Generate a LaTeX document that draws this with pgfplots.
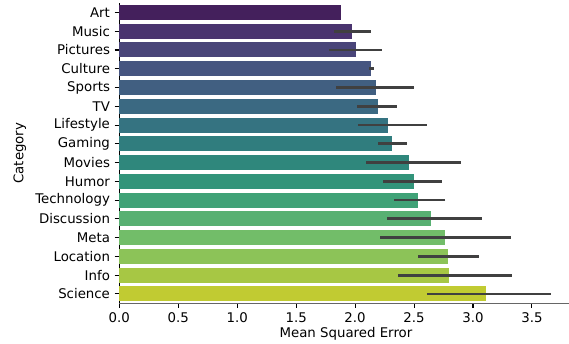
\documentclass[border=0pt]{standalone}
\usepackage{pgfplots}
\pgfplotsset{compat=1.18}
\usepackage{fontspec}
\setmainfont{DejaVu Sans}
\definecolor{c0}{RGB}{68,32,92}
\definecolor{c1}{RGB}{74,52,111}
\definecolor{c2}{RGB}{73,69,121}
\definecolor{c3}{RGB}{70,85,128}
\definecolor{c4}{RGB}{65,95,129}
\definecolor{c5}{RGB}{59,105,130}
\definecolor{c6}{RGB}{53,115,129}
\definecolor{c7}{RGB}{48,125,126}
\definecolor{c8}{RGB}{47,135,124}
\definecolor{c9}{RGB}{50,148,122}
\definecolor{c10}{RGB}{64,162,119}
\definecolor{c11}{RGB}{88,176,114}
\definecolor{c12}{RGB}{114,189,105}
\definecolor{c13}{RGB}{140,195,88}
\definecolor{c14}{RGB}{167,199,68}
\definecolor{c15}{RGB}{193,203,50}
\definecolor{errgray}{RGB}{64,64,64}
\begin{document}
\begin{tikzpicture}
\begin{axis}[
  at={(0,0)}, anchor=south west,
  scale only axis, width=340pt, height=225.2pt,
  xmin=0, xmax=3.845, ymin=-0.5, ymax=15.5, y dir=reverse,
  axis x line*=bottom, axis y line*=left,
  axis line style={-, black, line width=0.8pt},
  ytick={0,...,15},
  yticklabels={Art,Music,Pictures,Culture,Sports,TV,Lifestyle,Gaming,Movies,Humor,Technology,Discussion,Meta,Location,Info,Science},
  xtick={0,0.5,1,1.5,2,2.5,3,3.5},
  xticklabel style={/pgf/number format/.cd, fixed, fixed zerofill, precision=1},
  /pgf/number format/assume math mode=true,
  tick style={black, line width=0.8pt}, tick align=outside, major tick length=3.5pt,
  tick label style={font=\fontsize{10}{12}\selectfont},
  label style={font=\fontsize{10}{12}\selectfont},
  xlabel={Mean Squared Error}, ylabel={Category},
  xlabel style={yshift=3.5pt},
  xbar, bar width=0.8, bar shift=0pt,
  every axis plot/.append style={draw=none},
  error bars/x dir=both, error bars/x explicit, error bars/error mark=none,
  error bars/error bar style={draw=errgray, line width=2.1pt},
  clip=false,
]
\addplot[fill=c0] coordinates {(1.880,0)};
\addplot[fill=c1] coordinates {(1.974,1) += (0.158,0) -= (0.153,0)};
\addplot[fill=c2] coordinates {(2.007,2) += (0.218,0) -= (0.226,0)};
\addplot[fill=c3] coordinates {(2.135,3) += (0.023,0) -= (0.020,0)};
\addplot[fill=c4] coordinates {(2.177,4) += (0.325,0) -= (0.339,0)};
\addplot[fill=c5] coordinates {(2.194,5) += (0.159,0) -= (0.178,0)};
\addplot[fill=c6] coordinates {(2.279,6) += (0.328,0) -= (0.252,0)};
\addplot[fill=c7] coordinates {(2.313,7) += (0.130,0) -= (0.119,0)};
\addplot[fill=c8] coordinates {(2.457,8) += (0.439,0) -= (0.362,0)};
\addplot[fill=c9] coordinates {(2.500,9) += (0.234,0) -= (0.263,0)};
\addplot[fill=c10] coordinates {(2.533,10) += (0.233,0) -= (0.203,0)};
\addplot[fill=c11] coordinates {(2.644,11) += (0.430,0) -= (0.371,0)};
\addplot[fill=c12] coordinates {(2.762,12) += (0.560,0) -= (0.554,0)};
\addplot[fill=c13] coordinates {(2.788,13) += (0.266,0) -= (0.257,0)};
\addplot[fill=c14] coordinates {(2.796,14) += (0.535,0) -= (0.434,0)};
\addplot[fill=c15] coordinates {(3.110,15) += (0.552,0) -= (0.498,0)};
\draw[black!60, line width=0.8pt] (rel axis cs:0,0) -- (rel axis cs:1,0);
\end{axis}
\pgfresetboundingbox
\path[use as bounding box] (-89.5pt,-29.8pt) rectangle (337.3pt,227.5pt);
\end{tikzpicture}
\end{document}
